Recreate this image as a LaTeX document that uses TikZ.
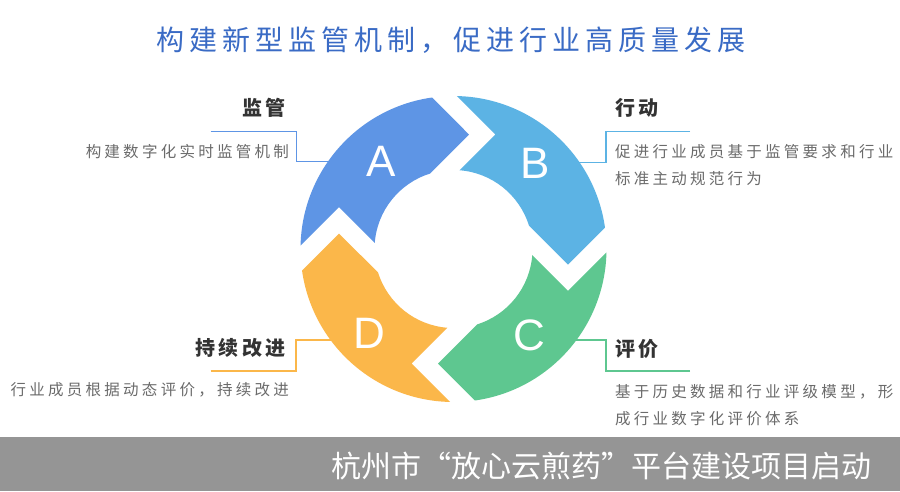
\documentclass[tikz,border=0pt]{standalone}
\usepackage{fontspec}
\setmainfont{Liberation Sans}
\newfontfamily\cjkT[LetterSpace=18]{Noto Sans CJK SC}
\newfontfamily\cjkH[LetterSpace=17]{Noto Sans CJK SC}
\newfontfamily\cjkS[LetterSpace=21]{Noto Sans CJK SC}
\newfontfamily\cjkF{Noto Sans CJK SC}
\definecolor{segA}{HTML}{5E95E5}
\definecolor{segB}{HTML}{5CB3E4}
\definecolor{segC}{HTML}{5EC790}
\definecolor{segD}{HTML}{FBB74A}
\definecolor{titleblue}{HTML}{3A6BC5}
\definecolor{headgray}{HTML}{333333}
\definecolor{subgray}{HTML}{6B6B6B}
\definecolor{bargray}{HTML}{959595}
\begin{document}
\begin{tikzpicture}[x=1pt,y=-1pt,
  heading/.style={font=\cjkH\bfseries\fontsize{20}{22}\selectfont, text=headgray, inner sep=0},
  subtext/.style={font=\cjkS\fontsize{15.5}{26.7}\selectfont, text=subgray, inner sep=0, align=left},
  letter/.style={font=\fontsize{44}{44}\selectfont, text=white, inner sep=0},
  conn/.style={line width=1.3pt}]
\useasboundingbox (0,0) rectangle (900,491);
\fill[white] (0,0) rectangle (900,491);
\fill[bargray] (0,437) rectangle (900,491);

% title
\node[font=\cjkT\fontsize{28}{30}\selectfont, text=titleblue] (title) at (451,40) {构建新型监管机制，促进行业高质量发展};

% headings and texts
\node[heading, anchor=east] (hA) at (286,108) {监管};
\node[subtext, anchor=east] (tA) at (289,151.7) {构建数字化实时监管机制};
\node[heading, anchor=west] (hB) at (615,108.3) {行动};
\node[subtext, anchor=west] (tB) at (615,165) {促进行业成员基于监管要求和行业\\标准主动规范行为};
\node[heading, anchor=west] (hC) at (615,348.5) {评价};
\node[subtext, anchor=west] (tC) at (615,405) {基于历史数据和行业评级模型，形\\成行业数字化评价体系};
\node[heading, anchor=east] (hD) at (286,348.3) {持续改进};
\node[subtext, anchor=east] (tD) at (289,390) {行业成员根据动态评价，持续改进};

% connector coordinates
\coordinate (cA0) at (210.7,131.7);
\coordinate (cA1) at (296.7,161.7);
\coordinate (cA2) at (340,161.7);
\coordinate (cB0) at (690,131.7);
\coordinate (cB1) at (606,162.7);
\coordinate (cB2) at (570,162.7);
\coordinate (cC0) at (690,371);
\coordinate (cC1) at (606,340);
\coordinate (cC2) at (570,340);
\coordinate (cD0) at (210.7,371);
\coordinate (cD1) at (296,340);
\coordinate (cD2) at (335,340);
\draw[conn, segA] (cA0) -| (cA1) -- (cA2);
\draw[conn, segB] (cB0) -| (cB1) -- (cB2);
\draw[conn, segC] (cC0) -| (cC1) -- (cC2);
\draw[conn, segD] (cD0) -| (cD1) -- (cD2);

% ring segments
\foreach \rot/\col in {0/segA,-90/segB,-180/segC,-270/segD}{
  \begin{scope}[shift={(453.5,249)}, rotate=\rot, yscale=-1]
    \fill[\col] (178.75:153) arc[start angle=178.75, end angle=98.07, radius=153]
      -- (15.5,114.5) -- (107.39:79)
      arc[start angle=107.39, end angle=175.59, radius=79]
      -- (-114.5,41.8) -- cycle;
  \end{scope}
}

% letters
\node[letter] (lA) at (381.2,161.2) {A};
\node[letter] (lB) at (534.8,163) {B};
\node[letter] (lC) at (529.2,335) {C};
\node[letter] (lD) at (369.2,333.3) {D};

% bottom caption
\node[font=\cjkF\fontsize{30}{32}\selectfont, text=white, anchor=east, inner sep=0] (bottom) at (872,466) {杭州市“放心云煎药”平台建设项目启动};
\end{tikzpicture}
\end{document}
